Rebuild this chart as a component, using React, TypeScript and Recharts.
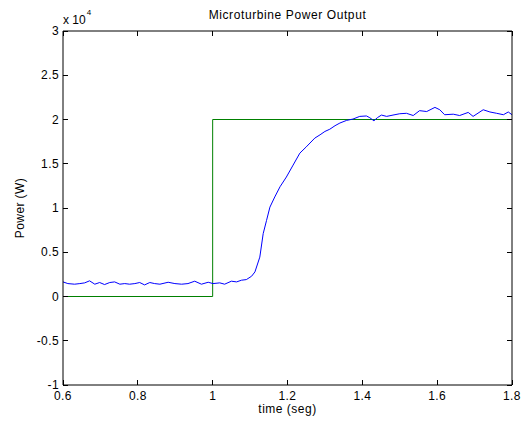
import React from 'react';
import { LineChart, Line, XAxis, YAxis } from 'recharts';

// Measured microturbine output (W) vs time (s)
const timeSeg = [
  0.600, 0.613, 0.631, 0.645, 0.658, 0.671, 0.685, 0.698, 0.711, 0.725,
  0.738, 0.752, 0.765, 0.778, 0.792, 0.805, 0.818, 0.832, 0.845, 0.859,
  0.881, 0.899, 0.917, 0.934, 0.952, 0.970, 0.988, 1.001, 1.019, 1.032,
  1.050, 1.064, 1.077, 1.090, 1.104, 1.113, 1.126, 1.135, 1.144, 1.153,
  1.166, 1.180, 1.197, 1.215, 1.233, 1.250, 1.273, 1.287, 1.300, 1.313,
  1.327, 1.340, 1.358, 1.375, 1.393, 1.411, 1.420, 1.431, 1.440, 1.451,
  1.465, 1.482, 1.500, 1.518, 1.536, 1.553, 1.572, 1.594, 1.607, 1.620,
  1.643, 1.660, 1.683, 1.696, 1.723, 1.741, 1.759, 1.777, 1.790, 1.800,
];
const powerW = [
  1650, 1460, 1390, 1460, 1540, 1770, 1390, 1580, 1350, 1580,
  1650, 1390, 1460, 1390, 1460, 1580, 1310, 1580, 1460, 1390,
  1610, 1460, 1390, 1460, 1730, 1390, 1610, 1460, 1540, 1390,
  1730, 1650, 1840, 1910, 2290, 2780, 4450, 7100, 8600, 10100,
  11250, 12400, 13500, 14850, 16200, 16900, 17900, 18270, 18650, 18900,
  19300, 19600, 19900, 20050, 20350, 20400, 20200, 19850, 20200, 20500,
  20350, 20500, 20650, 20700, 20450, 21000, 20900, 21370, 21100, 20540,
  20600, 20450, 20800, 20350, 21100, 20850, 20700, 20540, 20850, 20540,
];

// Step reference (W)
const refTime = [0.6, 1.0, 1.0, 1.8];
const refPowerW = [0, 0, 20000, 20000];

const xTicks = [0.6, 0.8, 1.0, 1.2, 1.4, 1.6, 1.8];
const xTickLabels = ['0.6', '0.8', '1', '1.2', '1.4', '1.6', '1.8'];
const yTicks = [-10000, -5000, 0, 5000, 10000, 15000, 20000, 25000, 30000];
const yTickLabels = ['-1', '-0.5', '0', '0.5', '1', '1.5', '2', '2.5', '3'];

const outputData = timeSeg.map((t, i) => ({ t, p: powerW[i] }));
const refData = refTime.map((t, i) => ({ t, p: refPowerW[i] }));

const FONT = '"Liberation Sans", Arial, Helvetica, sans-serif';
const TICK = 5;

const findLabel = (ticks: number[], labels: string[], v: number) => {
  const i = ticks.findIndex((k) => Math.abs(k - v) < 1e-9);
  return i >= 0 ? labels[i] : '';
};

const BottomTick = (props: any) => {
  const { x, y, payload } = props;
  return (
    <g>
      <line x1={x} x2={x} y1={y} y2={y - TICK} stroke="#000" shapeRendering="crispEdges" />
      <text x={x} y={y + 15} textAnchor="middle" fontSize={12} fontFamily={FONT} fill="#000" letterSpacing={0.4}>
        {findLabel(xTicks, xTickLabels, payload.value)}
      </text>
    </g>
  );
};
const TopTick = (props: any) => {
  const { x, y } = props;
  return <line x1={x} x2={x} y1={y} y2={y + TICK} stroke="#000" shapeRendering="crispEdges" />;
};
const LeftTick = (props: any) => {
  const { x, y, payload } = props;
  return (
    <g>
      <line x1={x} x2={x + TICK} y1={y} y2={y} stroke="#000" shapeRendering="crispEdges" />
      <text x={x - 4} y={y + 4} textAnchor="end" fontSize={12} fontFamily={FONT} fill="#000" letterSpacing={0.4}>
        {findLabel(yTicks, yTickLabels, payload.value)}
      </text>
    </g>
  );
};
const RightTick = (props: any) => {
  const { x, y } = props;
  return <line x1={x} x2={x - TICK} y1={y} y2={y} stroke="#000" shapeRendering="crispEdges" />;
};

export default function App() {
  const W = 524;
  const H = 421;
  return (
    <div style={{ position: 'absolute', left: 0, top: 0, width: W, height: H, background: '#fff' }}>
      <LineChart width={W} height={H} margin={{ top: 0, right: 0, bottom: 0, left: 0 }}>
        <XAxis
          xAxisId="b"
          dataKey="t"
          type="number"
          domain={[0.6, 1.8]}
          ticks={xTicks}
          allowDataOverflow
          orientation="bottom"
          height={36}
          tickSize={0}
          tickMargin={0}
          tickLine={false}
          tick={<BottomTick />}
          axisLine={{ stroke: '#000' }}
          interval={0}
        />
        <XAxis
          xAxisId="t"
          dataKey="t"
          type="number"
          domain={[0.6, 1.8]}
          ticks={xTicks}
          allowDataOverflow
          orientation="top"
          height={31}
          tickSize={0}
          tickMargin={0}
          tickLine={false}
          tick={<TopTick />}
          axisLine={{ stroke: '#000' }}
          interval={0}
        />
        <YAxis
          yAxisId="l"
          type="number"
          domain={[-10000, 30000]}
          ticks={yTicks}
          allowDataOverflow
          orientation="left"
          width={63}
          tickSize={0}
          tickMargin={0}
          tickLine={false}
          tick={<LeftTick />}
          axisLine={{ stroke: '#000' }}
          interval={0}
        />
        <YAxis
          yAxisId="r"
          type="number"
          domain={[-10000, 30000]}
          ticks={yTicks}
          allowDataOverflow
          orientation="right"
          width={12}
          tickSize={0}
          tickMargin={0}
          tickLine={false}
          tick={<RightTick />}
          axisLine={{ stroke: '#000' }}
          interval={0}
        />
        <Line
          xAxisId="b"
          yAxisId="l"
          data={refData}
          dataKey="p"
          type="linear"
          stroke="#008000"
          strokeWidth={1}
          dot={false}
          activeDot={false}
          isAnimationActive={false}
        />
        <Line
          xAxisId="b"
          yAxisId="l"
          data={outputData}
          dataKey="p"
          type="linear"
          stroke="#0000ff"
          strokeWidth={1}
          dot={false}
          activeDot={false}
          isAnimationActive={false}
        />
      </LineChart>
      <svg
        width={W}
        height={H}
        style={{ position: 'absolute', left: 0, top: 0, pointerEvents: 'none' }}
      >
        <text x={287.5} y={18.5} textAnchor="middle" fontSize={12} fontFamily={FONT} fill="#000" letterSpacing={0.6}>
          Microturbine Power Output
        </text>
        <text x={287.5} y={413} textAnchor="middle" fontSize={12} fontFamily={FONT} fill="#000" letterSpacing={0.5}>
          time (seg)
        </text>
        <text
          x={0}
          y={0}
          transform="translate(24,208) rotate(-90)"
          textAnchor="middle"
          fontSize={12}
          fontFamily={FONT}
          fill="#000"
          letterSpacing={0.4}
        >
          Power (W)
        </text>
        <text x={63} y={24} fontSize={12} fontFamily={FONT} fill="#000">
          x 10
          <tspan dx={1} dy={-9} fontSize={8}>4</tspan>
        </text>
      </svg>
    </div>
  );
}
